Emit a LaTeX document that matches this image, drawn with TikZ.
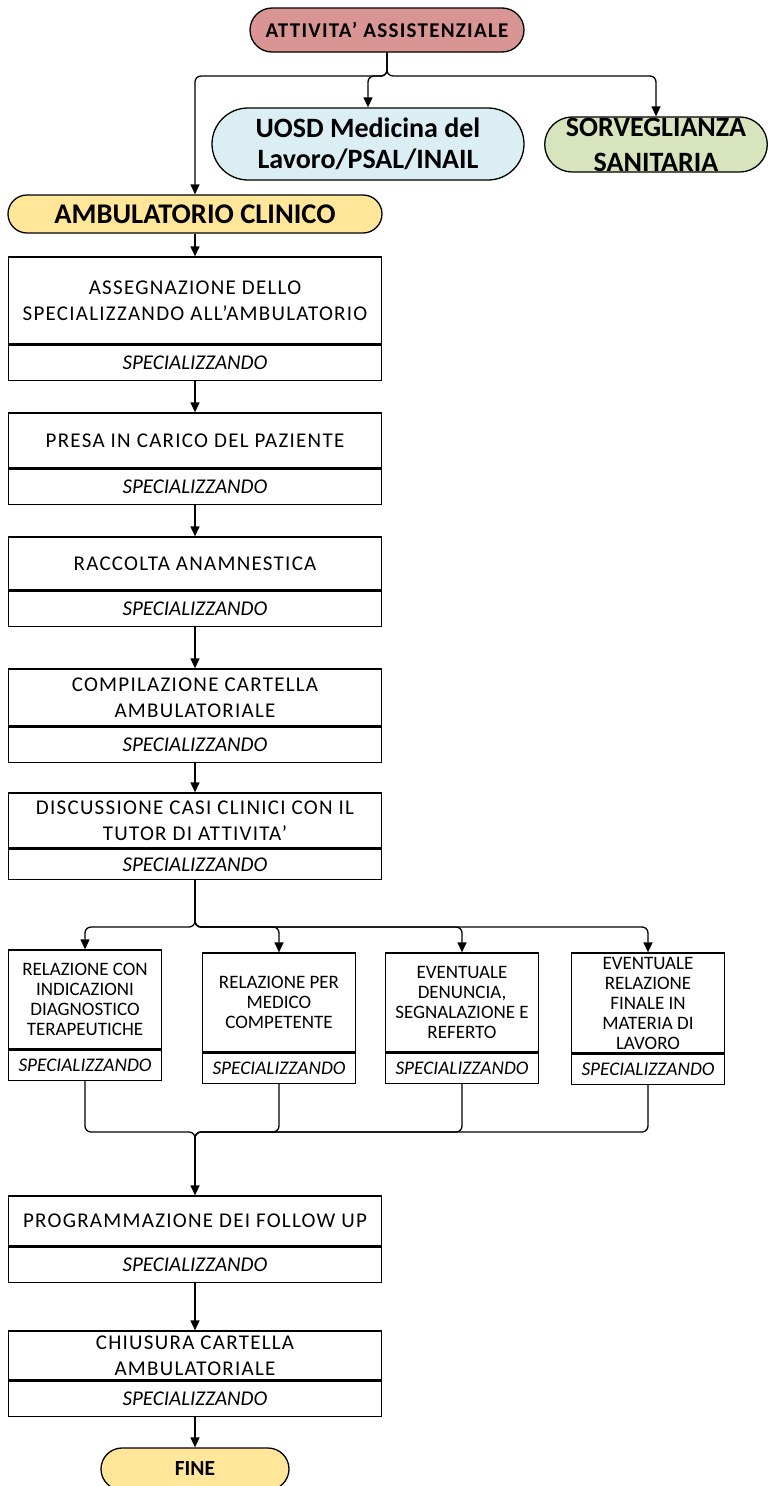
\documentclass[tikz,border=0pt]{standalone}
\usepackage{fontspec}
\setmainfont{Carlito}
\usetikzlibrary{positioning,shapes.misc,arrows.meta}

\definecolor{attred}{HTML}{D99594}
\definecolor{uosdblue}{HTML}{DAEEF3}
\definecolor{sorvgreen}{HTML}{D7E4BD}
\definecolor{ambyellow}{HTML}{FFE699}

\begin{document}
\begin{tikzpicture}[x=1pt, y=-1pt, line width=1.3pt,
		pill/.style={draw, rounded rectangle, inner sep=0pt, align=center},
		task/.style={draw, minimum width=373pt, inner sep=0pt, align=center, font=\fontsize{21}{26}\selectfont\addfontfeature{LetterSpace=6}},
		role/.style={draw, minimum width=373pt, minimum height=35pt, inner sep=0pt, font=\fontsize{21}{24}\selectfont\itshape},
		subtask/.style={draw, minimum width=153pt, minimum height=99pt, inner sep=0pt, align=center, font=\fontsize{19}{20}\selectfont},
		subrole/.style={draw, minimum width=153pt, minimum height=30pt, inner sep=0pt, font=\fontsize{19.3}{20}\selectfont\itshape},
		arr/.style={-{Triangle[length=10pt,width=9pt]}},
		fork/.style={arr, rounded corners=6pt}]
		%%%%% START %%%%%
		
		\useasboundingbox (0,0) rectangle (768,1486);
		
		\node[pill, fill=attred, minimum width=274pt, minimum height=44pt, font=\fontsize{21}{24}\selectfont\bfseries\addfontfeature{LetterSpace=6}] (att) at (387, 30) {ATTIVITA’ ASSISTENZIALE};
		\node[pill, fill=uosdblue, minimum width=312pt, minimum height=72pt, font=\fontsize{28}{31}\selectfont\bfseries] (uosd) at (368, 144) {UOSD Medicina del\\Lavoro/PSAL/INAIL};
		\node[pill, fill=sorvgreen, minimum width=218pt, minimum height=55pt, font=\fontsize{28}{35}\selectfont\bfseries] (sorv) at (656, 144.5) {SORVEGLIANZA\\SANITARIA};
		\node[pill, fill=ambyellow, minimum width=374pt, minimum height=38pt, font=\fontsize{28.5}{30}\selectfont\bfseries] (amb) at (195, 214) {AMBULATORIO CLINICO};
		
		\coordinate (top-fork) at (387, 76);
		\draw[fork] (att.south) -- (top-fork) -| (amb.north);
		\draw[fork] (att.south) -- (top-fork) -| (uosd.north);
		\draw[fork] (att.south) -- (top-fork) -| (sorv.north);
		
		\node[task, minimum height=87pt] (asseg) at (195, 300.5) {ASSEGNAZIONE DELLO\\SPECIALIZZANDO ALL’AMBULATORIO};
		\node[role, below=0pt of asseg] (asseg-r) {SPECIALIZZANDO};
		
		\node[task, minimum height=55pt] (presa) at (195, 440.5) {PRESA IN CARICO DEL PAZIENTE};
		\node[role, below=0pt of presa] (presa-r) {SPECIALIZZANDO};
		
		\node[task, minimum height=53pt] (racc) at (195, 563.5) {RACCOLTA ANAMNESTICA};
		\node[role, below=0pt of racc] (racc-r) {SPECIALIZZANDO};
		
		\node[task, minimum height=57pt] (comp) at (195, 697.5) {COMPILAZIONE CARTELLA\\AMBULATORIALE};
		\node[role, below=0pt of comp] (comp-r) {SPECIALIZZANDO};
		
		\node[task, minimum height=55pt] (disc) at (195, 820.5) {DISCUSSIONE CASI CLINICI CON IL\\TUTOR DI ATTIVITA’};
		\node[role, minimum height=30pt, below=0pt of disc] (disc-r) {SPECIALIZZANDO};
		
		\draw[arr] (amb.south) -- (asseg.north);
		\draw[arr] (asseg-r.south) -- (presa.north);
		\draw[arr] (presa-r.south) -- (racc.north);
		\draw[arr] (racc-r.south) -- (comp.north);
		\draw[arr] (comp-r.south) -- (disc.north);
		
		\node[subtask] (relA) at (85, 999.5) {RELAZIONE CON\\INDICAZIONI\\DIAGNOSTICO\\TERAPEUTICHE};
		\node[subrole, below=0pt of relA] (relA-r) {SPECIALIZZANDO};
		\node[subtask] (relB) at (279, 1002.5) {RELAZIONE PER\\MEDICO\\COMPETENTE};
		\node[subrole, below=0pt of relB] (relB-r) {SPECIALIZZANDO};
		\node[subtask] (relC) at (462, 1002.5) {EVENTUALE\\DENUNCIA,\\SEGNALAZIONE E\\REFERTO};
		\node[subrole, below=0pt of relC] (relC-r) {SPECIALIZZANDO};
		\node[subtask, minimum height=100pt] (relD) at (648, 1003) {EVENTUALE\\RELAZIONE\\FINALE IN\\MATERIA DI\\LAVORO};
		\node[subrole, below=0pt of relD] (relD-r) {SPECIALIZZANDO};
		
		\coordinate (mid-fork) at (195, 927);
		\draw[fork] (disc-r.south) -- (mid-fork) -| (relA.north);
		\draw[fork] (disc-r.south) -- (mid-fork) -| (relB.north);
		\draw[fork] (disc-r.south) -- (mid-fork) -| (relC.north);
		\draw[fork] (disc-r.south) -- (mid-fork) -| (relD.north);
		
		\node[task, minimum height=50pt] (prog) at (195, 1221) {PROGRAMMAZIONE DEI FOLLOW UP};
		\node[role, below=0pt of prog] (prog-r) {SPECIALIZZANDO};
		
		\node[task, minimum height=49pt] (chius) at (195, 1355.5) {CHIUSURA CARTELLA\\AMBULATORIALE};
		\node[role, below=0pt of chius] (chius-r) {SPECIALIZZANDO};
		
		\node[pill, fill=ambyellow, minimum width=188pt, minimum height=42pt, font=\fontsize{21.5}{24}\selectfont\bfseries] (fine) at (195, 1469) {FINE};
		
		\coordinate (merge) at (195, 1132);
		\coordinate (merge-end) at (195, 1160);
		\draw[rounded corners=6pt] (relA-r.south) |- (merge) -- (merge-end);
		\draw[rounded corners=6pt] (relB-r.south) |- (merge) -- (merge-end);
		\draw[rounded corners=6pt] (relC-r.south) |- (merge) -- (merge-end);
		\draw[rounded corners=6pt] (relD-r.south) |- (merge) -- (merge-end);
		\draw[arr] (merge-end) -- (prog.north);
		
		\draw[arr] (prog-r.south) -- (chius.north);
		\draw[arr] (chius-r.south) -- (fine.north);
		
		%%%%% END %%%%%
	\end{tikzpicture}
\end{document}
